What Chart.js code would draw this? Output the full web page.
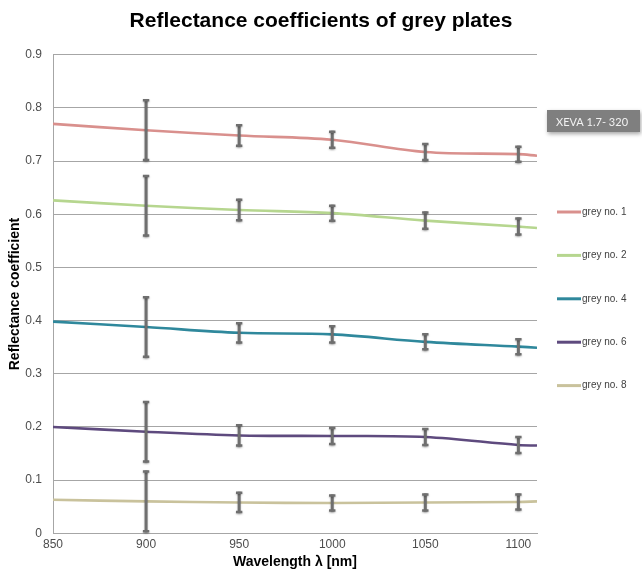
<!DOCTYPE html>
<html>
<head>
<meta charset="utf-8">
<script src="https://cdn.jsdelivr.net/npm/chart.js@4/dist/chart.umd.min.js"></script>
<style>
  html, body { margin: 0; padding: 0; background: #fff; }
  #wrap { width: 642px; height: 574px; position: relative; }
</style>
</head>
<body>
<div id="wrap"><canvas id="c" width="642" height="574"></canvas></div>
<script>
// ---- data ----
const wavelengths = [850, 900, 950, 1000, 1050, 1100, 1110];
const errorWavelengths = [900, 950, 1000, 1050, 1100];
const seriesNames = ['grey no. 1', 'grey no. 2', 'grey no. 4', 'grey no. 6', 'grey no. 8'];
const grey1 = [0.770, 0.758, 0.748, 0.740, 0.717, 0.713, 0.710];
const grey2 = [0.626, 0.616, 0.608, 0.602, 0.588, 0.577, 0.574];
const grey4 = [0.398, 0.388, 0.377, 0.374, 0.360, 0.351, 0.349];
const grey6 = [0.200, 0.191, 0.184, 0.183, 0.181, 0.166, 0.165];
const grey8 = [0.063, 0.060, 0.058, 0.057, 0.058, 0.059, 0.060];
const err1 = [0.058, 0.021, 0.017, 0.017, 0.016];
const err2 = [0.058, 0.021, 0.016, 0.017, 0.017];
const err4 = [0.058, 0.020, 0.017, 0.016, 0.016];
const err6 = [0.058, 0.021, 0.017, 0.017, 0.017];
const err8 = [0.058, 0.020, 0.016, 0.017, 0.016];
const yTicks = [0, 0.1, 0.2, 0.3, 0.4, 0.5, 0.6, 0.7, 0.8, 0.9];
const xTicks = [850, 900, 950, 1000, 1050, 1100];
const colors = ['#d9908d', '#b6d68f', '#2f889c', '#5e4a7e', '#c9c29c'];

const allValues = [grey1, grey2, grey4, grey6, grey8];
const allErrors = [err1, err2, err4, err6, err8];

const FONT = "'Liberation Sans', Arial, sans-serif";

const datasets = allValues.map((vals, i) => ({
  label: seriesNames[i],
  data: wavelengths.map((w, k) => ({ x: w, y: vals[k] })),
  borderColor: colors[i],
  backgroundColor: colors[i],
  borderWidth: 2.6,
  pointRadius: 0,
  tension: 0.35,
  errors: allErrors[i]
}));

const errorBarPlugin = {
  id: 'errorBars',
  afterDatasetsDraw(chart) {
    const { ctx, scales: { x, y } } = chart;
    const area = chart.chartArea;
    ctx.save();
    ctx.beginPath();
    ctx.rect(area.left, area.top - 5, area.right - area.left, area.bottom - area.top + 10);
    ctx.clip();
    ctx.strokeStyle = '#6f6f6f';
    ctx.shadowColor = 'rgba(0,0,0,0.25)';
    ctx.shadowBlur = 2;
    ctx.shadowOffsetY = 1;
    chart.data.datasets.forEach((ds) => {
      errorWavelengths.forEach((w, k) => {
        const idx = wavelengths.indexOf(w);
        const v = ds.data[idx].y;
        const e = ds.errors[k];
        const px = x.getPixelForValue(w);
        const top = y.getPixelForValue(v + e);
        const bot = y.getPixelForValue(Math.max(0, v - e));
        ctx.lineWidth = 3;
        ctx.beginPath();
        ctx.moveTo(px, top);
        ctx.lineTo(px, bot);
        ctx.stroke();
        ctx.lineWidth = 2.5;
        ctx.beginPath();
        ctx.moveTo(px - 3.2, top + 1);
        ctx.lineTo(px + 3.2, top + 1);
        ctx.moveTo(px - 3.2, bot - 1);
        ctx.lineTo(px + 3.2, bot - 1);
        ctx.stroke();
      });
    });
    ctx.restore();
  }
};

const sideLegendPlugin = {
  id: 'sideLegend',
  afterDraw(chart) {
    const { ctx } = chart;
    ctx.save();
    // instrument label box
    ctx.shadowColor = 'rgba(0,0,0,0.35)';
    ctx.shadowBlur = 4;
    ctx.shadowOffsetX = 1;
    ctx.shadowOffsetY = 2;
    ctx.fillStyle = '#7f7f7f';
    ctx.fillRect(547, 110, 93, 22);
    ctx.shadowColor = 'transparent';
    ctx.fillStyle = '#f2f2f2';
    ctx.font = "11px Lato, 'Open Sans', sans-serif";
    ctx.textBaseline = 'middle';
    ctx.textAlign = 'left';
    ctx.fillText('XEVA 1.7- 320', 556, 122);
    // legend
    const startY = 212, step = 43.4;
    chart.data.datasets.forEach((ds, i) => {
      const yy = startY + i * step;
      ctx.strokeStyle = ds.borderColor;
      ctx.lineWidth = 3;
      ctx.beginPath();
      ctx.moveTo(557, yy);
      ctx.lineTo(581, yy);
      ctx.stroke();
      ctx.fillStyle = '#404040';
      ctx.font = '10px ' + FONT;
      ctx.fillText(ds.label, 582, yy);
    });
    ctx.restore();
  }
};

new Chart(document.getElementById('c'), {
  type: 'line',
  data: { datasets },
  plugins: [errorBarPlugin, sideLegendPlugin],
  options: {
    responsive: false,
    animation: false,
    devicePixelRatio: 1,
    layout: { padding: 0 },
    plugins: {
      legend: { display: false },
      tooltip: { enabled: false },
      title: {
        display: true,
        text: 'Reflectance coefficients of grey plates',
        color: '#000',
        font: { family: FONT, size: 21, weight: 'bold' },
        padding: { top: 9, bottom: 20.5 }
      }
    },
    scales: {
      x: {
        type: 'linear',
        min: 850,
        max: 1110,
        afterBuildTicks(scale) { scale.ticks = xTicks.map(v => ({ value: v })); },
        afterFit(scale) { scale.height = 40.7; },
        ticks: {
          color: '#4d4d4d',
          font: { family: FONT, size: 12 },
          padding: 4,
          maxRotation: 0,
          callback: (v) => String(v)
        },
        grid: { display: false, drawTicks: false },
        border: { display: true, color: '#a6a6a6', width: 1 },
        title: {
          display: true,
          text: 'Wavelength λ [nm]',
          color: '#000',
          font: { family: FONT, size: 14, weight: 'bold' },
          padding: { top: 2, bottom: 3.6 }
        }
      },
      y: {
        min: 0,
        max: 0.9,
        afterBuildTicks(scale) { scale.ticks = yTicks.map(v => ({ value: v })); },
        afterFit(scale) { scale.width = 53; },
        ticks: {
          color: '#4d4d4d',
          font: { family: FONT, size: 12 },
          padding: 11,
          callback: (v) => String(Math.round(v * 10) / 10)
        },
        grid: { color: '#a6a6a6', lineWidth: 1, drawTicks: false },
        border: { display: true, color: '#a6a6a6', width: 1 },
        title: {
          display: true,
          text: 'Reflectance coefficient',
          color: '#000',
          font: { family: FONT, size: 14, weight: 'bold' },
          padding: { top: 6.6, bottom: 1.3 }
        }
      },
      side: {
        position: 'right',
        display: true,
        min: 0,
        max: 0.9,
        afterFit(scale) { scale.width = 105; },
        ticks: { display: false },
        grid: { display: false, drawTicks: false },
        border: { display: false }
      }
    }
  }
});
</script>
</body>
</html>
